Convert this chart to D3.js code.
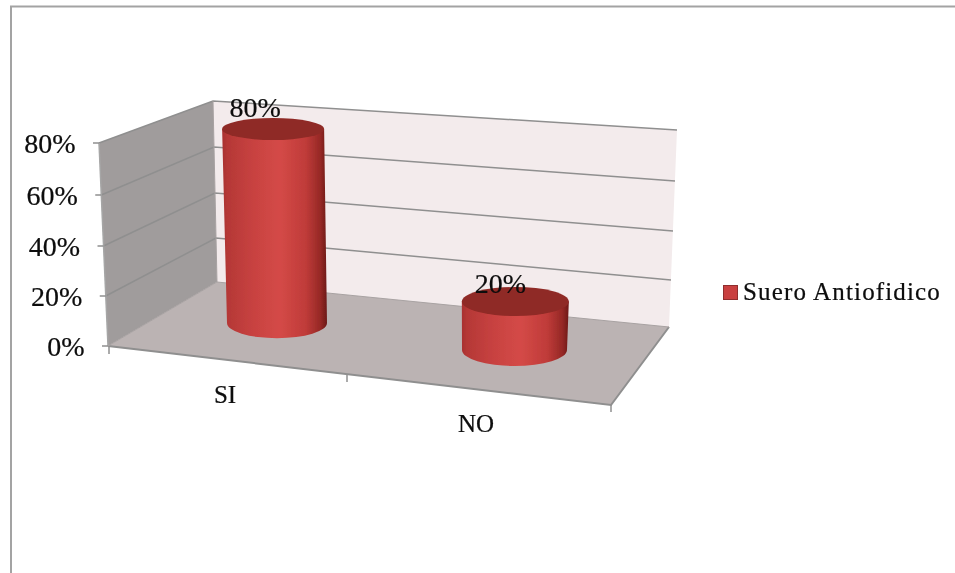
<!DOCTYPE html>
<html>
<head>
<meta charset="utf-8">
<script src="https://cdnjs.cloudflare.com/ajax/libs/d3/7.8.5/d3.min.js"></script>
<style>
html, body { margin: 0; background: #fff; }
svg { display: block; }
text { font-family: "Liberation Serif", serif; fill: #0a0a0a; stroke: #0a0a0a; stroke-width: 0.2px; }
</style>
</head>
<body>
<div id="chart"></div>
<script>
const categories = ['SI', 'NO'];
const values = [0.8, 0.2];
const seriesName = 'Suero Antiofidico';
const yTicks = [0, 0.2, 0.4, 0.6, 0.8];

const w = 955, h = 573;
const svg = d3.select('#chart').append('svg').attr('width', w).attr('height', h);
const defs = svg.append('defs');

defs.append('filter').attr('id', 'soft')
  .append('feGaussianBlur').attr('stdDeviation', 0.45);

const grad = defs.append('linearGradient').attr('id', 'body');
[[0, '#a83130'], [0.05, '#b53836'], [0.3, '#c84241'], [0.55, '#d44a47'], [0.8, '#bf3b39'], [0.94, '#952825'], [1, '#6c1a17']]
  .forEach(s => grad.append('stop').attr('offset', s[0]).attr('stop-color', s[1]));

// each edge of the box as a pair of scales, spacing is not even because of the perspective
const frontX = d3.scaleLinear().domain([0, 0.8]).range([108, 99]);
const frontY = d3.scaleLinear().domain(yTicks).range([346, 296, 246, 195, 143]);
const backX = d3.scaleLinear().domain([0, 0.8]).range([217, 213]);
const backY = d3.scaleLinear().domain(yTicks).range([282, 238, 193, 147, 101]);
const rightX = d3.scaleLinear().domain([0, 0.8]).range([669, 677]);
const rightY = d3.scaleLinear().domain(yTicks).range([327, 280, 231, 181, 130]);

const line = d3.line();
const poly = pts => line(pts) + 'Z';
const g = svg.append('g').attr('filter', 'url(#soft)');

// outer chart border
g.append('path')
  .attr('d', 'M955,6.5H11V573')
  .attr('fill', 'none').attr('stroke', '#a3a3a3').attr('stroke-width', 2);

// walls and floor
const fl = [frontX(0), frontY(0)], ft = [frontX(0.8), frontY(0.8)];
const bl = [backX(0), backY(0)], bt = [backX(0.8), backY(0.8)];
const rb = [rightX(0), rightY(0)], rt = [rightX(0.8), rightY(0.8)];
const fr = [611, 405];

g.append('path').attr('d', poly([bl, bt, rt, rb])).attr('fill', '#f3ebec');
g.append('path').attr('d', poly([fl, ft, bt, bl])).attr('fill', '#a09c9c');
g.append('path').attr('d', poly([fl, bl, rb, fr])).attr('fill', '#bbb3b3');

// gridlines on both walls
g.selectAll('.grid').data(yTicks.filter(d => d > 0)).enter().append('path')
  .attr('class', 'grid')
  .attr('d', d => line([[frontX(d), frontY(d)], [backX(d), backY(d)], [rightX(d), rightY(d)]]))
  .attr('fill', 'none').attr('stroke', '#8f8f8f').attr('stroke-width', 1.5);

// box edges
g.append('path').attr('d', line([fl, fr, rb]))
  .attr('fill', 'none').attr('stroke', '#8f8f8f').attr('stroke-width', 2);
g.append('path').attr('d', line([ft, fl]))
  .attr('fill', 'none').attr('stroke', '#a6a6a6').attr('stroke-width', 1.5);
g.append('path').attr('d', line([fl, bl, rb]))
  .attr('fill', 'none').attr('stroke', '#a8a2a2').attr('stroke-width', 1);
g.append('path').attr('d', line([bl, bt]))
  .attr('fill', 'none').attr('stroke', '#a8a2a2').attr('stroke-width', 1);

// y ticks and labels
g.selectAll('.ytick').data(yTicks).enter().append('path')
  .attr('class', 'ytick')
  .attr('d', d => line([[frontX(d) - 6, frontY(d)], [frontX(d), frontY(d)]]))
  .attr('stroke', '#8f8f8f').attr('stroke-width', 1.5);

g.selectAll('.ylab').data(yTicks).enter().append('text')
  .attr('class', 'ylab')
  .attr('x', d => frontX(d) - 23.5)
  .attr('y', d => frontY(d) + 10)
  .attr('text-anchor', 'end')
  .attr('font-size', 28)
  .text(d => d3.format('.0%')(d));

// category ticks on the front edge of the floor
const edgeX = d3.scaleLinear().domain([0, 1, 2]).range([109, 347, 611]);
const edgeY = d3.scaleLinear().domain([0, 1, 2]).range([347, 375, 405]);
g.selectAll('.xtick').data([0, 1, 2]).enter().append('path')
  .attr('class', 'xtick')
  .attr('d', d => line([[edgeX(d), edgeY(d)], [edgeX(d), edgeY(d) + 7]]))
  .attr('stroke', '#8f8f8f').attr('stroke-width', 1.5);

g.selectAll('.xlab').data(categories).enter().append('text')
  .attr('class', 'xlab')
  .attr('x', (d, i) => edgeX(i + 0.5) - 3)
  .attr('y', (d, i) => edgeY(i + 0.5) + 42)
  .attr('text-anchor', 'middle')
  .attr('font-size', 25)
  .text(d => d);

// cylinders
const baseX = d3.scalePoint().domain(categories).range([277, 514.5]);
const baseY = d3.scalePoint().domain(categories).range([323, 350]);
const height = d3.scaleLinear().domain([0, 0.8]).range([0, 194]);
const skew = d3.scaleLinear().domain([108, 669]).range([-9, 8]);
const rxAt = d3.scaleLinear().domain([277, 514.5]).range([50, 52.5]);
const ryAt = d3.scaleLinear().domain([129, 301, 350]).range([11, 14.5, 16]);
const labelDx = d3.scaleLinear().domain([277, 514.5]).range([-18, -15]);
const labelDy = d3.scaleLinear().domain([277, 514.5]).range([-12, -9]);

const bars = g.selectAll('.bar').data(categories.map((c, i) => ({c, v: values[i]}))).enter()
  .append('g').attr('class', 'bar');

bars.each(function(d) {
  const x0 = baseX(d.c), y0 = baseY(d.c);
  const x1 = x0 + skew(x0) * d.v / 0.8, y1 = y0 - height(d.v);
  const rx0 = rxAt(x0), ry0 = ryAt(y0), rx1 = rx0 + 1, ry1 = ryAt(y1);
  const sel = d3.select(this);
  sel.append('path')
    .attr('d', `M${x1 - rx1},${y1}L${x0 - rx0},${y0}A${rx0},${ry0} 0 0 0 ${x0 + rx0},${y0}L${x1 + rx1},${y1}Z`)
    .attr('fill', 'url(#body)');
  sel.append('ellipse')
    .attr('cx', x1).attr('cy', y1).attr('rx', rx1).attr('ry', ry1)
    .attr('fill', '#8f2a26');
  sel.append('text')
    .attr('x', x1 + labelDx(x0))
    .attr('y', y1 + labelDy(x0))
    .attr('text-anchor', 'middle')
    .attr('font-size', 28)
    .text(d3.format('.0%')(d.v));
});

// legend
const legend = g.append('g');
legend.append('rect')
  .attr('x', 723.5).attr('y', 285.5).attr('width', 14).attr('height', 14)
  .attr('fill', '#c94040').attr('stroke', '#8f2f2f').attr('stroke-width', 1);
legend.append('text')
  .attr('x', 743).attr('y', 300)
  .attr('font-size', 25)
  .attr('letter-spacing', 1.15)
  .text(seriesName);
</script>
</body>
</html>
